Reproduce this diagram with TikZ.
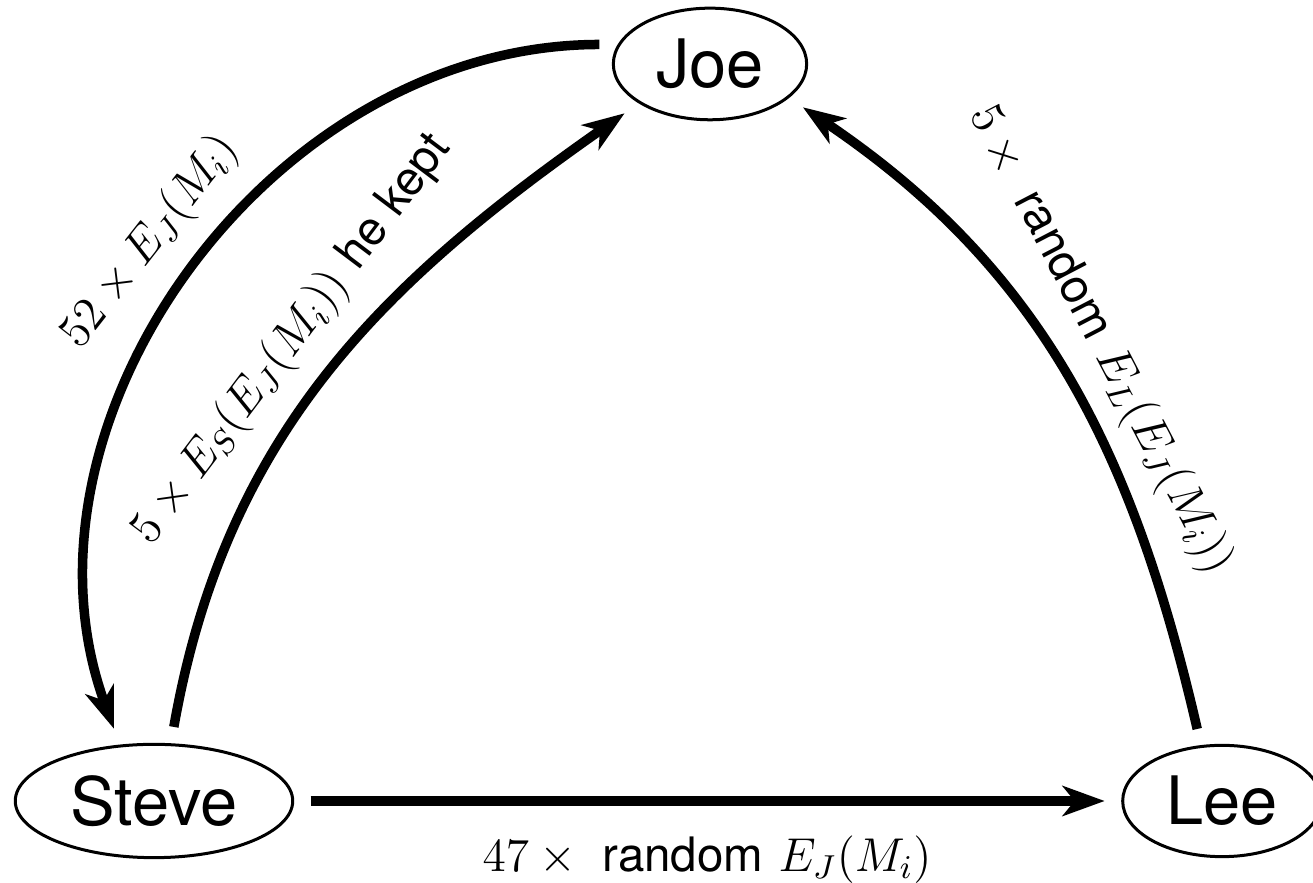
\RequirePackage{fix-cm}
\documentclass[tikz,border=0pt]{standalone}
\usepackage{fontspec}
\setsansfont{TeX Gyre Heros}
\usetikzlibrary{shapes.geometric,arrows.meta}

\begin{document}
\begin{tikzpicture}[x=0.01cm, y=0.01cm,
  person/.style={draw, ellipse, line width=0.03cm, inner sep=0.145cm, outer sep=0.18cm,
    font=\sffamily\fontsize{19}{22}\selectfont},
  link/.style={line width=0.095cm, -{Stealth[length=0.42cm, width=0.3cm, inset=0.12cm]}},
  lbl/.style={inner sep=0pt, font=\fontsize{13.5}{15}\selectfont}]
  \useasboundingbox (0,0) rectangle (1313,883);

  \node[person] (joe) at (710,819) {Joe};
  \node[person] (steve) at (154,82) {Steve};
  \node[person] (lee) at (1222,82) {Lee};

  % 矢印
  \draw[link] (joe.170) to[out=180, in=110] (steve.119);
  \draw[link] (steve.75) to[out=80, in=215] (joe.210);
  \draw[link] (lee.109) to[out=103, in=326] (joe.335);
  \draw[link, line width=0.1cm] (steve) -- (lee);

  % ラベル
  \node[lbl, rotate=52] (l52) at (150,641) {$52 \times E_J(M_i)$};
  \node[lbl, rotate=53] (lkept) at (292,543) {$5 \times E_S(E_J(M_i))$ \textsf{he kept}};
  \node[lbl, rotate=-62.5] (lrand) at (1100,543) {$5\times{}$ \textsf{random} $E_L(E_J(M_i))$};
  \node[lbl] (l47) at (707,23) {$47\times{}$ \textsf{random} $E_J(M_i)$};
\end{tikzpicture}
\end{document}
